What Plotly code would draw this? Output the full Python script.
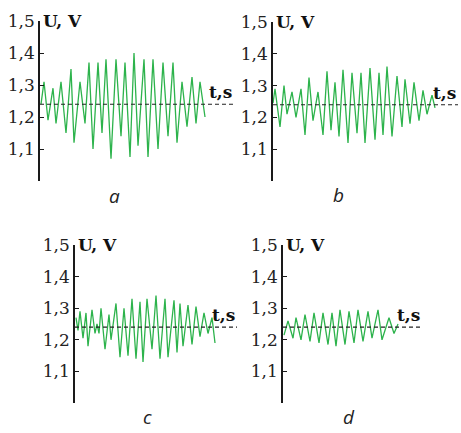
import plotly.graph_objects as go

# ---------------- data ----------------
tick_vals = [1.0, 1.1, 1.2, 1.3, 1.4, 1.5]
tick_text = ["", "1,1", "1,2", "1,3", "1,4", "1,5"]
baseline = 1.24  # dashed reference level, V

t_a = [1, 4, 8, 13, 16, 21, 26, 31, 34, 40, 45, 49, 53, 58, 62, 66, 71, 76, 81, 85,
       90, 94, 98, 104, 108, 113, 118, 123, 128, 133, 137, 142, 147, 152, 156, 160, 165]
u_a = [1.24, 1.31, 1.19, 1.29, 1.18, 1.31, 1.15, 1.35, 1.12, 1.31, 1.18, 1.37, 1.10, 1.37,
       1.15, 1.38, 1.07, 1.38, 1.14, 1.37, 1.075, 1.40, 1.11, 1.38, 1.075, 1.38, 1.10, 1.37,
       1.14, 1.37, 1.12, 1.31, 1.17, 1.325, 1.18, 1.31, 1.20]

t_b = [0, 2, 7, 11, 14, 19, 23, 28, 32, 36, 40, 45, 50, 54, 58, 62, 66, 70, 75, 79,
       84, 88, 92, 97, 102, 106, 110, 114, 119, 124, 129, 132, 137, 141, 146, 150, 154, 159, 162]
u_b = [1.245, 1.29, 1.17, 1.30, 1.21, 1.28, 1.20, 1.29, 1.145, 1.325, 1.19, 1.28, 1.145,
       1.345, 1.16, 1.31, 1.14, 1.35, 1.12, 1.34, 1.15, 1.34, 1.12, 1.355, 1.13, 1.34, 1.145,
       1.36, 1.14, 1.33, 1.17, 1.32, 1.18, 1.31, 1.19, 1.285, 1.21, 1.27, 1.23]

t_c = [1, 3, 5, 8, 11, 13, 17, 20, 22, 24, 26, 30, 34, 36, 41, 45, 49, 53, 57, 61,
       65, 68, 72, 77, 81, 85, 90, 93, 99, 102, 105, 108, 113, 117, 121, 125, 129, 133, 137, 140]
u_c = [1.27, 1.23, 1.29, 1.205, 1.285, 1.18, 1.295, 1.22, 1.25, 1.22, 1.30, 1.17, 1.28,
       1.20, 1.315, 1.145, 1.30, 1.15, 1.33, 1.14, 1.32, 1.13, 1.33, 1.17, 1.34, 1.14, 1.33,
       1.145, 1.325, 1.16, 1.315, 1.18, 1.31, 1.185, 1.305, 1.21, 1.285, 1.22, 1.27, 1.19]

t_d = [1, 5, 10, 13, 18, 22, 27, 31, 36, 40, 45, 49, 53, 57, 62, 66, 71, 75, 80, 85,
       89, 95, 99, 106, 111, 115]
u_d = [1.215, 1.26, 1.205, 1.27, 1.20, 1.28, 1.195, 1.285, 1.19, 1.285, 1.185, 1.285, 1.18,
       1.295, 1.185, 1.29, 1.19, 1.295, 1.195, 1.29, 1.205, 1.295, 1.20, 1.27, 1.22, 1.25]

panel_letters = ["a", "b", "c", "d"]
series_t = [t_a, t_b, t_c, t_d]
series_u = [u_a, u_b, u_c, u_d]

# ---------------- layout geometry ----------------
W, H = 461, 433
# (axis x px, x-range length, top px (1.5), bottom px (1.0))
geom = [(40, 194, 21, 181), (273, 185, 22, 181), (75, 162, 245, 403), (283, 139, 245, 403)]
# (centre x px, bottom of text box px)
letter_pos = [(114, 211), (338, 210), (147, 432), (349, 432)]

SERIF = "DejaVu Serif"
GREEN = "#2db34c"
fig = go.Figure()
annotations = []
shapes = []
for i, ((ax_px, L, top, bot), t, u) in enumerate(zip(geom, series_t, series_u)):
    n = "" if i == 0 else str(i + 1)
    xa, ya = "x" + n, "y" + n
    fig.add_trace(go.Scatter(x=t, y=u, mode="lines", xaxis=xa, yaxis=ya,
                             line=dict(color=GREEN, width=1.3), showlegend=False,
                             hoverinfo="skip"))
    fig.layout["xaxis" + n] = dict(domain=[ax_px / W, (ax_px + L) / W], range=[0, L],
                                   visible=False, anchor=ya, automargin=False)
    fig.layout["yaxis" + n] = dict(domain=[1 - bot / H, 1 - top / H], range=[1.0, 1.5],
                                   anchor=xa, automargin=False,
                                   showline=True, linecolor="#1a1a1a", linewidth=1.5,
                                   showgrid=False, zeroline=False, ticks="inside", ticklen=4,
                                   tickcolor="#1a1a1a", tickwidth=1.2,
                                   tickvals=tick_vals, ticktext=tick_text,
                                   tickfont=dict(family=SERIF, size=17, color="#222"))
    shapes.append(dict(type="line", xref=xa + " domain", yref=ya, x0=0, x1=1,
                       y0=baseline, y1=baseline,
                       line=dict(color="#222", width=1.1, dash="4px,3px")))
    annotations.append(dict(text="<b>U, V</b>", xref=xa, yref=ya, x=0, y=1.5,
                            xanchor="left", yanchor="middle", xshift=1, showarrow=False,
                            font=dict(family=SERIF, size=17, color="#111")))
    annotations.append(dict(text="<b>t,s</b>", xref=xa, yref=ya, x=L, y=baseline,
                            xanchor="right", yanchor="bottom", yshift=0, showarrow=False,
                            font=dict(family=SERIF, size=17, color="#111")))
    lx, ly = letter_pos[i]
    annotations.append(dict(text="<i>" + panel_letters[i] + "</i>", xref="paper", yref="paper",
                            x=lx / W, y=1 - ly / H, xanchor="center", yanchor="bottom",
                            showarrow=False,
                            font=dict(family="Open Sans", size=19, color="#222")))

fig.update_layout(width=W, height=H, margin=dict(l=0, r=0, t=0, b=0, autoexpand=False),
                  paper_bgcolor="white", plot_bgcolor="white",
                  annotations=annotations, shapes=shapes)
fig.write_html("out.html", config={"displayModeBar": False},
               post_script="document.body.style.margin='0';document.body.style.overflow='hidden';")
